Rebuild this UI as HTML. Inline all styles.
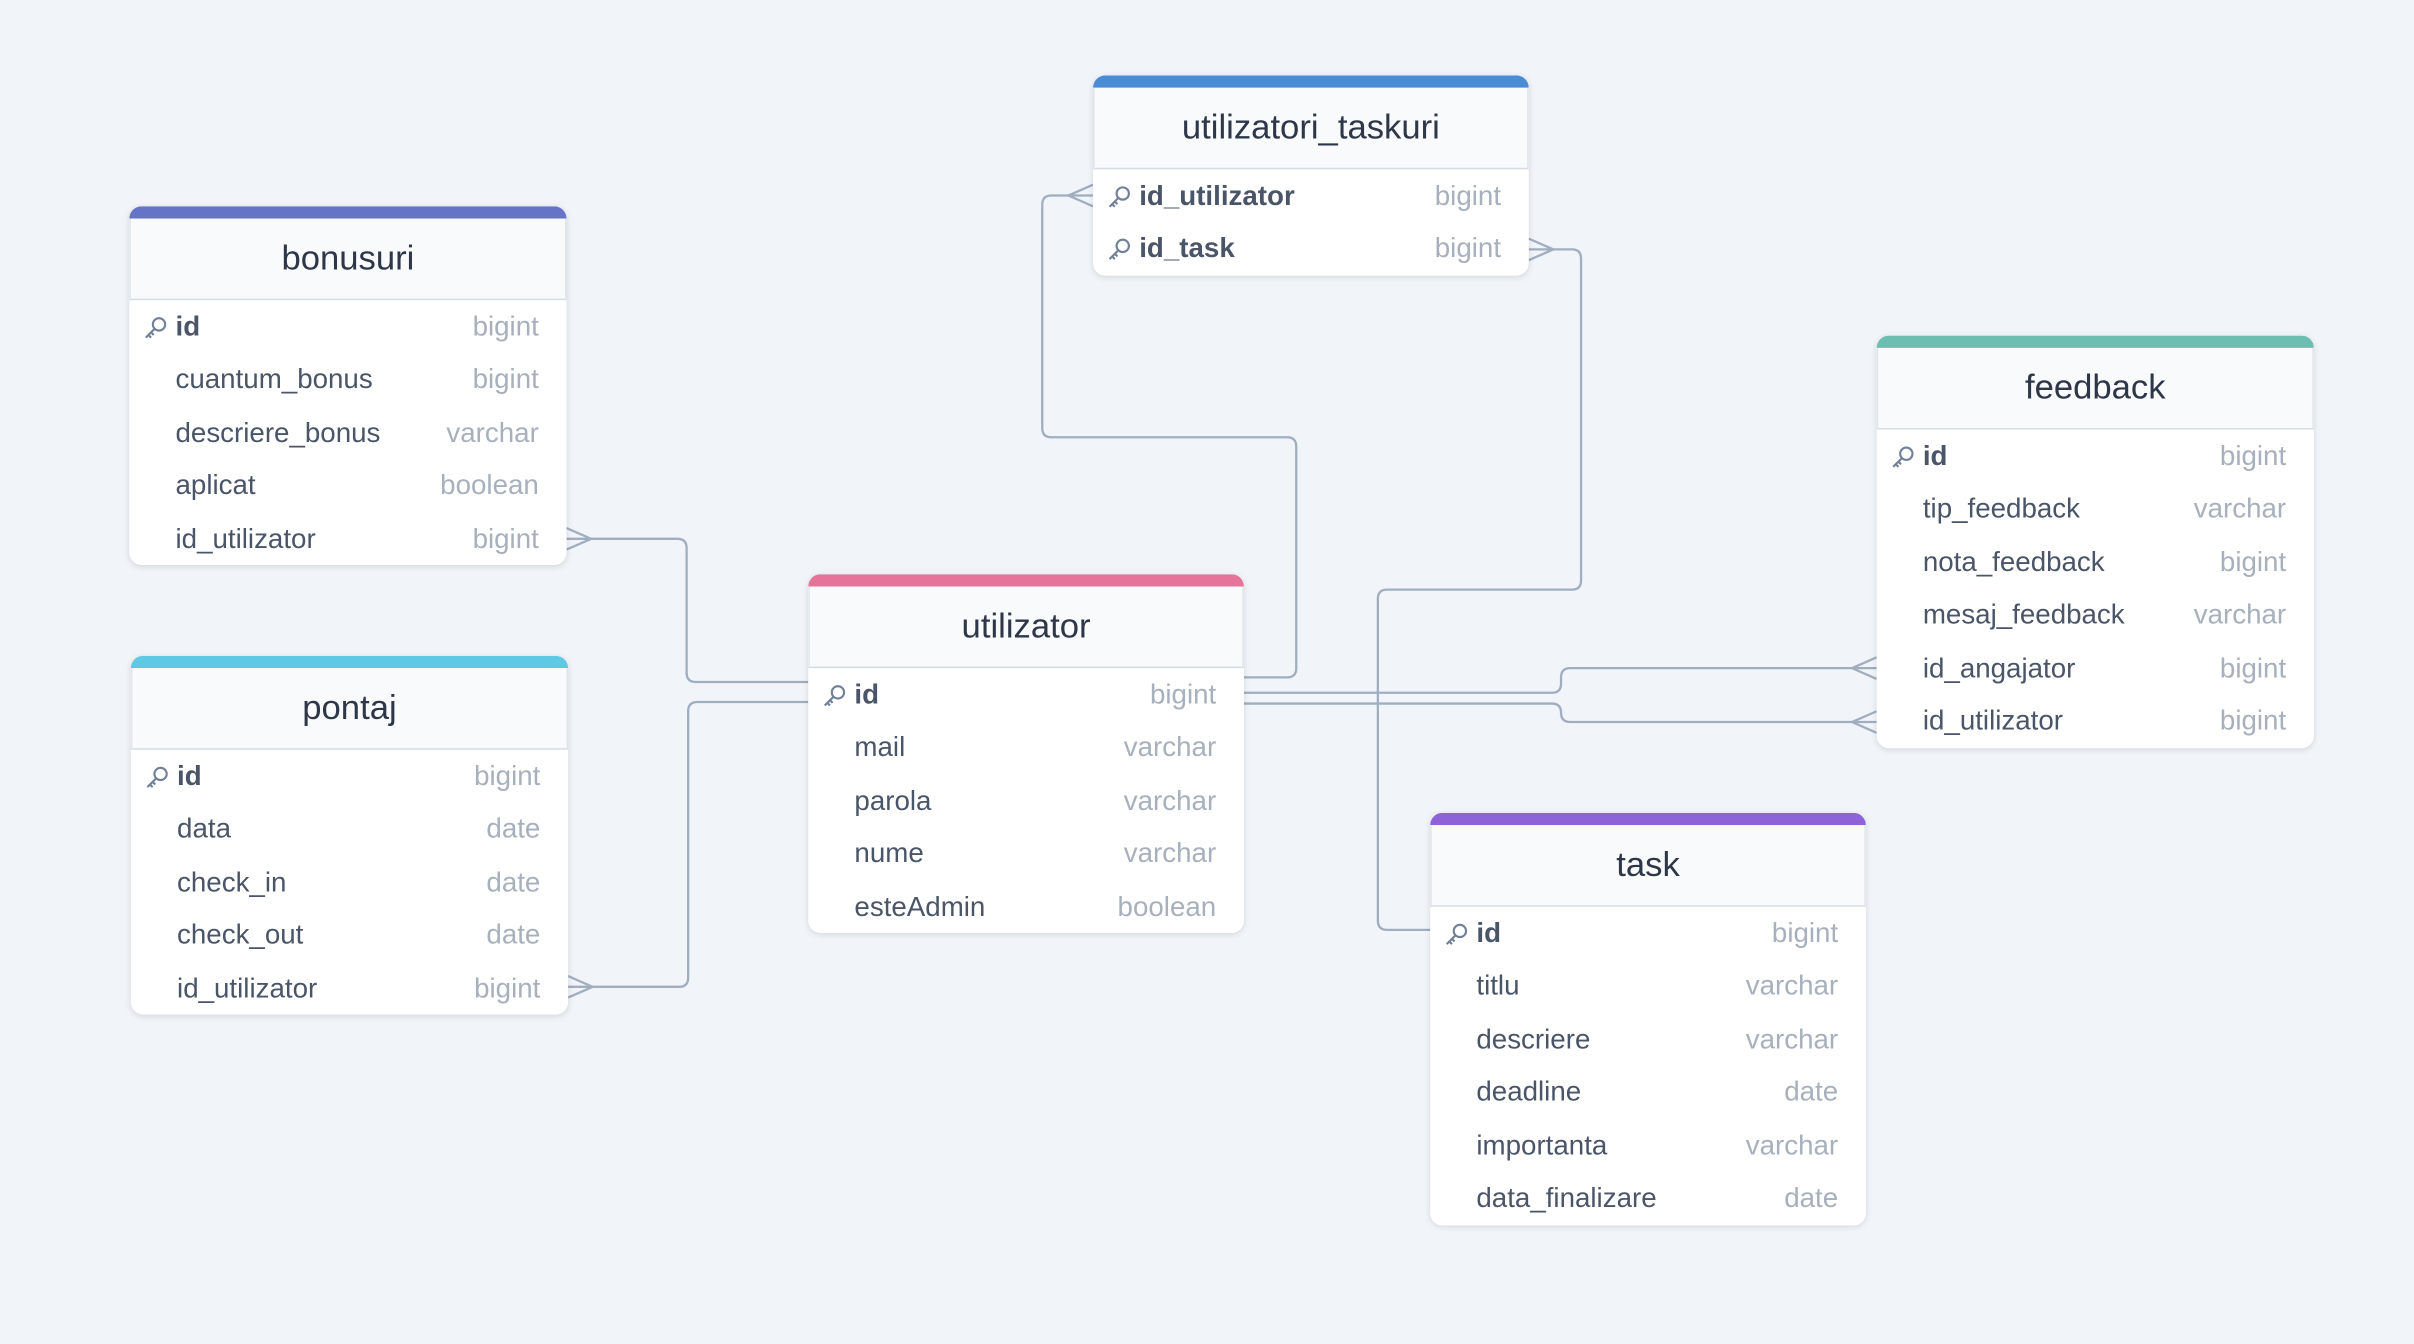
<!DOCTYPE html>
<html><head><meta charset="utf-8">
<style>
html,body{margin:0;padding:0;background:#f1f5f9;}
body{width:2414px;height:1344px;overflow:hidden;}
#c{position:absolute;left:0;top:0;width:1568px;height:873px;transform:scale(1.5395);transform-origin:0 0;font-family:"Liberation Sans",sans-serif;}
.t{position:absolute;background:#fff;border-radius:8px;box-shadow:0 1px 4px rgba(0,0,0,.12);overflow:hidden;}
.bar{height:8px;}
.h{height:51.5px;line-height:51.5px;text-align:center;font-size:22.5px;color:#2d3748;background:#f8fafc;border-bottom:1.5px solid #d5dde7;border-left:1px solid #dfe5ec;border-right:1px solid #dfe5ec;}
.r{height:34.5px;line-height:34.5px;position:relative;font-size:18px;color:#4a5568;}
.r .n{position:absolute;left:30px;}
.r .y{position:absolute;right:18px;color:#a7b0bc;}
.r.k .n{font-weight:bold;color:#4a5568;}
.r svg{position:absolute;left:9px;top:10px;}
</style></head><body>
<div id="c">
<svg width="1568" height="873" style="position:absolute;left:0;top:0" fill="none" stroke="#a0aec0" stroke-width="1.5">
<path d="M368,350 H440 q6,0 6,6 V437 q0,6 6,6 H525"/>
<path d="M368,343 L384,350 L368,357"/>
<path d="M369,641 H441 q6,0 6,-6 V462 q0,-6 6,-6 H525"/>
<path d="M369,634 L385,641 L369,648"/>
<path d="M808,440 H836 q6,0 6,-6 V290 q0,-6 -6,-6 H683 q-6,0 -6,-6 V133 q0,-6 6,-6 H710"/>
<path d="M710,120 L694,127 L710,134"/>
<path d="M993,162 H1021 q6,0 6,6 V377 q0,6 -6,6 H901 q-6,0 -6,6 V598 q0,6 6,6 H929"/>
<path d="M993,155 L1009,162 L993,169"/>
<path d="M808,450 H1008 q6,0 6,-6 V440 q0,-6 6,-6 H1219"/>
<path d="M1219,427 L1203,434 L1219,441"/>
<path d="M808,457 H1008 q6,0 6,6 V463 q0,6 6,6 H1219"/>
<path d="M1219,462 L1203,469 L1219,476"/>
</svg>

<div class="t" style="left:84px;top:134px;width:284px">
<div class="bar" style="background:#6674c8"></div><div class="h">bonusuri</div>
<div class="r k"><svg width="16" height="16" viewBox="0 0 14 14" fill="none" stroke="#718096" stroke-width="1.2"><circle cx="9" cy="5" r="3.5"/><path d="M6.5,7.5 L1.5,12.5 M3,11 L4.5,12.5 M4.5,9.5 L6,11"/></svg><span class="n">id</span><span class="y">bigint</span></div>
<div class="r"><span class="n">cuantum_bonus</span><span class="y">bigint</span></div>
<div class="r"><span class="n">descriere_bonus</span><span class="y">varchar</span></div>
<div class="r"><span class="n">aplicat</span><span class="y">boolean</span></div>
<div class="r"><span class="n">id_utilizator</span><span class="y">bigint</span></div>
</div>

<div class="t" style="left:85px;top:426px;width:284px">
<div class="bar" style="background:#5ec9e5"></div><div class="h">pontaj</div>
<div class="r k"><svg width="16" height="16" viewBox="0 0 14 14" fill="none" stroke="#718096" stroke-width="1.2"><circle cx="9" cy="5" r="3.5"/><path d="M6.5,7.5 L1.5,12.5 M3,11 L4.5,12.5 M4.5,9.5 L6,11"/></svg><span class="n">id</span><span class="y">bigint</span></div>
<div class="r"><span class="n">data</span><span class="y">date</span></div>
<div class="r"><span class="n">check_in</span><span class="y">date</span></div>
<div class="r"><span class="n">check_out</span><span class="y">date</span></div>
<div class="r"><span class="n">id_utilizator</span><span class="y">bigint</span></div>
</div>

<div class="t" style="left:525px;top:373px;width:283px">
<div class="bar" style="background:#e5739a"></div><div class="h">utilizator</div>
<div class="r k"><svg width="16" height="16" viewBox="0 0 14 14" fill="none" stroke="#718096" stroke-width="1.2"><circle cx="9" cy="5" r="3.5"/><path d="M6.5,7.5 L1.5,12.5 M3,11 L4.5,12.5 M4.5,9.5 L6,11"/></svg><span class="n">id</span><span class="y">bigint</span></div>
<div class="r"><span class="n">mail</span><span class="y">varchar</span></div>
<div class="r"><span class="n">parola</span><span class="y">varchar</span></div>
<div class="r"><span class="n">nume</span><span class="y">varchar</span></div>
<div class="r"><span class="n">esteAdmin</span><span class="y">boolean</span></div>
</div>

<div class="t" style="left:710px;top:49px;width:283px">
<div class="bar" style="background:#4a8bd6"></div><div class="h">utilizatori_taskuri</div>
<div class="r k"><svg width="16" height="16" viewBox="0 0 14 14" fill="none" stroke="#718096" stroke-width="1.2"><circle cx="9" cy="5" r="3.5"/><path d="M6.5,7.5 L1.5,12.5 M3,11 L4.5,12.5 M4.5,9.5 L6,11"/></svg><span class="n">id_utilizator</span><span class="y">bigint</span></div>
<div class="r k"><svg width="16" height="16" viewBox="0 0 14 14" fill="none" stroke="#718096" stroke-width="1.2"><circle cx="9" cy="5" r="3.5"/><path d="M6.5,7.5 L1.5,12.5 M3,11 L4.5,12.5 M4.5,9.5 L6,11"/></svg><span class="n">id_task</span><span class="y">bigint</span></div>
</div>

<div class="t" style="left:1219px;top:218px;width:284px">
<div class="bar" style="background:#6cbfb0"></div><div class="h">feedback</div>
<div class="r k"><svg width="16" height="16" viewBox="0 0 14 14" fill="none" stroke="#718096" stroke-width="1.2"><circle cx="9" cy="5" r="3.5"/><path d="M6.5,7.5 L1.5,12.5 M3,11 L4.5,12.5 M4.5,9.5 L6,11"/></svg><span class="n">id</span><span class="y">bigint</span></div>
<div class="r"><span class="n">tip_feedback</span><span class="y">varchar</span></div>
<div class="r"><span class="n">nota_feedback</span><span class="y">bigint</span></div>
<div class="r"><span class="n">mesaj_feedback</span><span class="y">varchar</span></div>
<div class="r"><span class="n">id_angajator</span><span class="y">bigint</span></div>
<div class="r"><span class="n">id_utilizator</span><span class="y">bigint</span></div>
</div>

<div class="t" style="left:929px;top:528px;width:283px">
<div class="bar" style="background:#8e62d9"></div><div class="h">task</div>
<div class="r k"><svg width="16" height="16" viewBox="0 0 14 14" fill="none" stroke="#718096" stroke-width="1.2"><circle cx="9" cy="5" r="3.5"/><path d="M6.5,7.5 L1.5,12.5 M3,11 L4.5,12.5 M4.5,9.5 L6,11"/></svg><span class="n">id</span><span class="y">bigint</span></div>
<div class="r"><span class="n">titlu</span><span class="y">varchar</span></div>
<div class="r"><span class="n">descriere</span><span class="y">varchar</span></div>
<div class="r"><span class="n">deadline</span><span class="y">date</span></div>
<div class="r"><span class="n">importanta</span><span class="y">varchar</span></div>
<div class="r"><span class="n">data_finalizare</span><span class="y">date</span></div>
</div>
</div>
</body></html>
